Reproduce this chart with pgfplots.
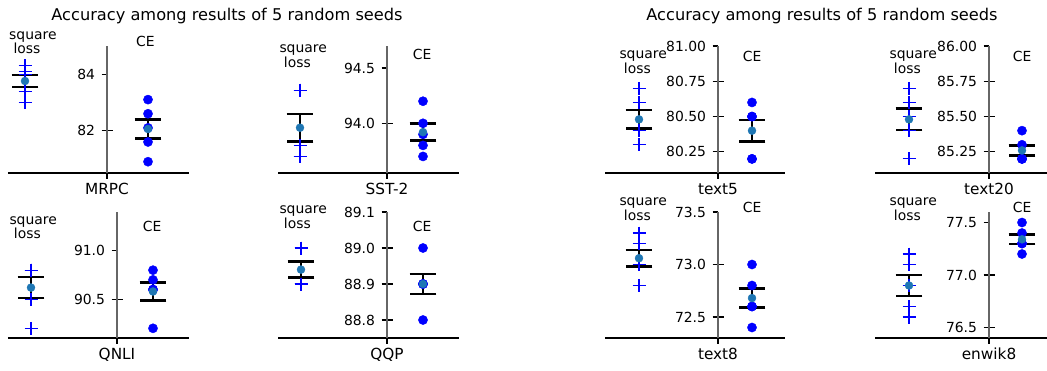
\documentclass[border=0pt]{standalone}
\usepackage{fontspec}
\setmainfont{DejaVu Sans}
\usepackage{pgfplots}
\pgfplotsset{compat=1.18}

\definecolor{meanblue}{HTML}{1F77B4}
\newcommand{\tickfont}{\fontsize{13.9}{16}\selectfont}
\newcommand{\labfont}{\fontsize{15.3}{18}\selectfont}
\newcommand{\titlefont}{\fontsize{16.2}{19}\selectfont}

\pgfplotsset{
  panel/.style={
    scale only axis, anchor=south west, clip=false,
    axis x line=bottom, axis y line=middle,
    axis line style={-, line width=1.1pt},
    x axis line style={black},
    y axis line style={black!60},
    hide obscured x ticks=false, hide obscured y ticks=false,
    xtick={0}, tick align=center, major tick length=11pt,
    every tick/.style={black, line width=1.2pt, shorten >=5.5pt},
    xticklabel style={font=\labfont, yshift=-1pt},
    yticklabel style={font=\tickfont, xshift=-3pt, /pgf/number format/fixed, /pgf/number format/fixed zerofill},
    /pgf/number format/assume math mode=true,
    scaled y ticks=false,
  },
  sqpts/.style={only marks, mark=+, blue, mark size=6.5pt, mark options={line width=1.1pt}},
  cepts/.style={only marks, mark=*, blue, mark size=4.6pt},
  meanpt/.style={only marks, mark=*, meanblue, mark size=4pt,
    error bars/.cd, y dir=both, y explicit,
    error bar style={black, line width=2pt},
    error mark options={rotate=90, black, line width=2.5pt, mark size=13.3pt}},
}

\begin{document}
\begin{tikzpicture}
\path[use as bounding box] (0,0) rectangle (1047pt,370pt);

% titles of the two groups
\node[font=\titlefont, anchor=base] at (227pt,349.4pt) {Accuracy among results of 5 random seeds};
\node[font=\titlefont, anchor=base] at (822pt,349.4pt) {Accuracy among results of 5 random seeds};

% ---------------- MRPC ----------------
\begin{axis}[panel, at={(8pt,197pt)}, width=181pt, height=127pt,
  xmin=-99, xmax=82, ymin=80.5, ymax=85, ytick={82,84},
  yticklabel style={/pgf/number format/precision=0}, xticklabels={MRPC}]
\addplot[sqpts] coordinates {(-82,84.3) (-82,84.1) (-82,84.0) (-82,83.4) (-82,83.0)};
\addplot[cepts] coordinates {(41,83.1) (41,82.6) (41,82.1) (41,81.6) (41,80.9)};
\addplot[meanpt] coordinates {(-82,83.76) +- (0,0.216)};
\addplot[meanpt] coordinates {(41,82.06) +- (0,0.342)};
\end{axis}

% ---------------- SST-2 ----------------
\begin{axis}[panel, at={(278pt,197pt)}, width=181pt, height=127pt,
  xmin=-109, xmax=72, ymin=93.55, ymax=94.7, ytick={94.0,94.5},
  yticklabel style={/pgf/number format/precision=1}, xticklabels={SST-2}]
\addplot[sqpts] coordinates {(-87,94.3) (-87,94.3) (-87,93.8) (-87,93.7) (-87,93.7)};
\addplot[cepts] coordinates {(36,94.2) (36,94.0) (36,93.9) (36,93.8) (36,93.7)};
\addplot[meanpt] coordinates {(-87,93.96) +- (0,0.125)};
\addplot[meanpt] coordinates {(36,93.92) +- (0,0.077)};
\end{axis}

% ---------------- QNLI ----------------
\begin{axis}[panel, at={(8pt,32pt)}, width=181pt, height=126pt,
  xmin=-109, xmax=72, ymin=90.1, ymax=91.4, ytick={90.5,91.0},
  yticklabel style={/pgf/number format/precision=1}, xticklabels={QNLI}]
\addplot[sqpts] coordinates {(-86,90.8) (-86,90.8) (-86,90.8) (-86,90.5) (-86,90.2)};
\addplot[cepts] coordinates {(36,90.8) (36,90.7) (36,90.6) (36,90.6) (36,90.2)};
\addplot[meanpt] coordinates {(-86,90.62) +- (0,0.107)};
\addplot[meanpt] coordinates {(36,90.58) +- (0,0.091)};
\end{axis}

% ---------------- QQP ----------------
\begin{axis}[panel, at={(278pt,32pt)}, width=181pt, height=126pt,
  xmin=-109, xmax=72, ymin=88.75, ymax=89.1, ytick={88.8,88.9,89.0,89.1},
  yticklabel style={/pgf/number format/precision=1}, xticklabels={QQP}]
\addplot[sqpts] coordinates {(-86,89.0) (-86,89.0) (-86,88.9) (-86,88.9) (-86,88.9)};
\addplot[cepts] coordinates {(36,89.0) (36,88.9) (36,88.9) (36,88.9) (36,88.8)};
\addplot[meanpt] coordinates {(-86,88.94) +- (0,0.022)};
\addplot[meanpt] coordinates {(36,88.90) +- (0,0.028)};
\end{axis}

% ---------------- text5 ----------------
\begin{axis}[panel, at={(605pt,197pt)}, width=180pt, height=127pt,
  xmin=-113, xmax=67, ymin=80.1, ymax=81.0, ytick={80.25,80.5,80.75,81.0},
  yticklabel style={/pgf/number format/precision=2}, xticklabels={text5}]
\addplot[sqpts] coordinates {(-79,80.7) (-79,80.6) (-79,80.4) (-79,80.4) (-79,80.3)};
\addplot[cepts] coordinates {(34,80.6) (34,80.5) (34,80.5) (34,80.2) (34,80.2)};
\addplot[meanpt] coordinates {(-79,80.48) +- (0,0.066)};
\addplot[meanpt] coordinates {(34,80.40) +- (0,0.075)};
\end{axis}

% ---------------- text20 ----------------
\begin{axis}[panel, at={(875pt,197pt)}, width=172pt, height=127pt,
  xmin=-114, xmax=58, ymin=85.1, ymax=86.0, ytick={85.25,85.5,85.75,86.0},
  yticklabel style={/pgf/number format/precision=2}, xticklabels={text20}]
\addplot[sqpts] coordinates {(-80,85.7) (-80,85.6) (-80,85.5) (-80,85.4) (-80,85.2)};
\addplot[cepts] coordinates {(33,85.4) (33,85.3) (33,85.2) (33,85.2) (33,85.2)};
\addplot[meanpt] coordinates {(-80,85.48) +- (0,0.077)};
\addplot[meanpt] coordinates {(33,85.26) +- (0,0.036)};
\end{axis}

% ---------------- text8 ----------------
\begin{axis}[panel, at={(605pt,32pt)}, width=180pt, height=126pt,
  xmin=-113, xmax=67, ymin=72.3, ymax=73.5, ytick={72.5,73.0,73.5},
  yticklabel style={/pgf/number format/precision=1}, xticklabels={text8}]
\addplot[sqpts] coordinates {(-79,73.3) (-79,73.2) (-79,73.0) (-79,73.0) (-79,72.8)};
\addplot[cepts] coordinates {(34,73.0) (34,72.8) (34,72.6) (34,72.6) (34,72.4)};
\addplot[meanpt] coordinates {(-79,73.06) +- (0,0.078)};
\addplot[meanpt] coordinates {(34,72.68) +- (0,0.091)};
\end{axis}

% ---------------- enwik8 ----------------
\begin{axis}[panel, at={(875pt,32pt)}, width=172pt, height=126pt,
  xmin=-114, xmax=58, ymin=76.4, ymax=77.6, ytick={76.5,77.0,77.5},
  yticklabel style={/pgf/number format/precision=1}, xticklabels={enwik8}]
\addplot[sqpts] coordinates {(-80,77.2) (-80,77.1) (-80,76.9) (-80,76.7) (-80,76.6)};
\addplot[cepts] coordinates {(33,77.5) (33,77.4) (33,77.3) (33,77.3) (33,77.2)};
\addplot[meanpt] coordinates {(-80,76.90) +- (0,0.102)};
\addplot[meanpt] coordinates {(33,77.34) +- (0,0.046)};
\end{axis}

% method labels inside each panel
\begin{scope}[every node/.style={font=\tickfont, anchor=base west, inner sep=0pt}]
\foreach \sx/\sy/\cx/\cy in {9/330.7/136/323.9, 279.3/317.4/412.7/310.6,
    9.3/145.7/142.7/138.2, 279.3/156.4/412.7/138.2,
    619.3/311.4/742.7/308.9, 889.3/311.4/1012.7/308.9,
    619.3/164.1/742.7/157.2, 889.3/164.1/1012.7/157.2}{
  \node at (\sx pt,\sy pt) {square};
  \node at (\sx pt+4.4pt,\sy pt-14.5pt) {loss};
  \node at (\cx pt,\cy pt) {CE};
}
\end{scope}
\end{tikzpicture}
\end{document}
